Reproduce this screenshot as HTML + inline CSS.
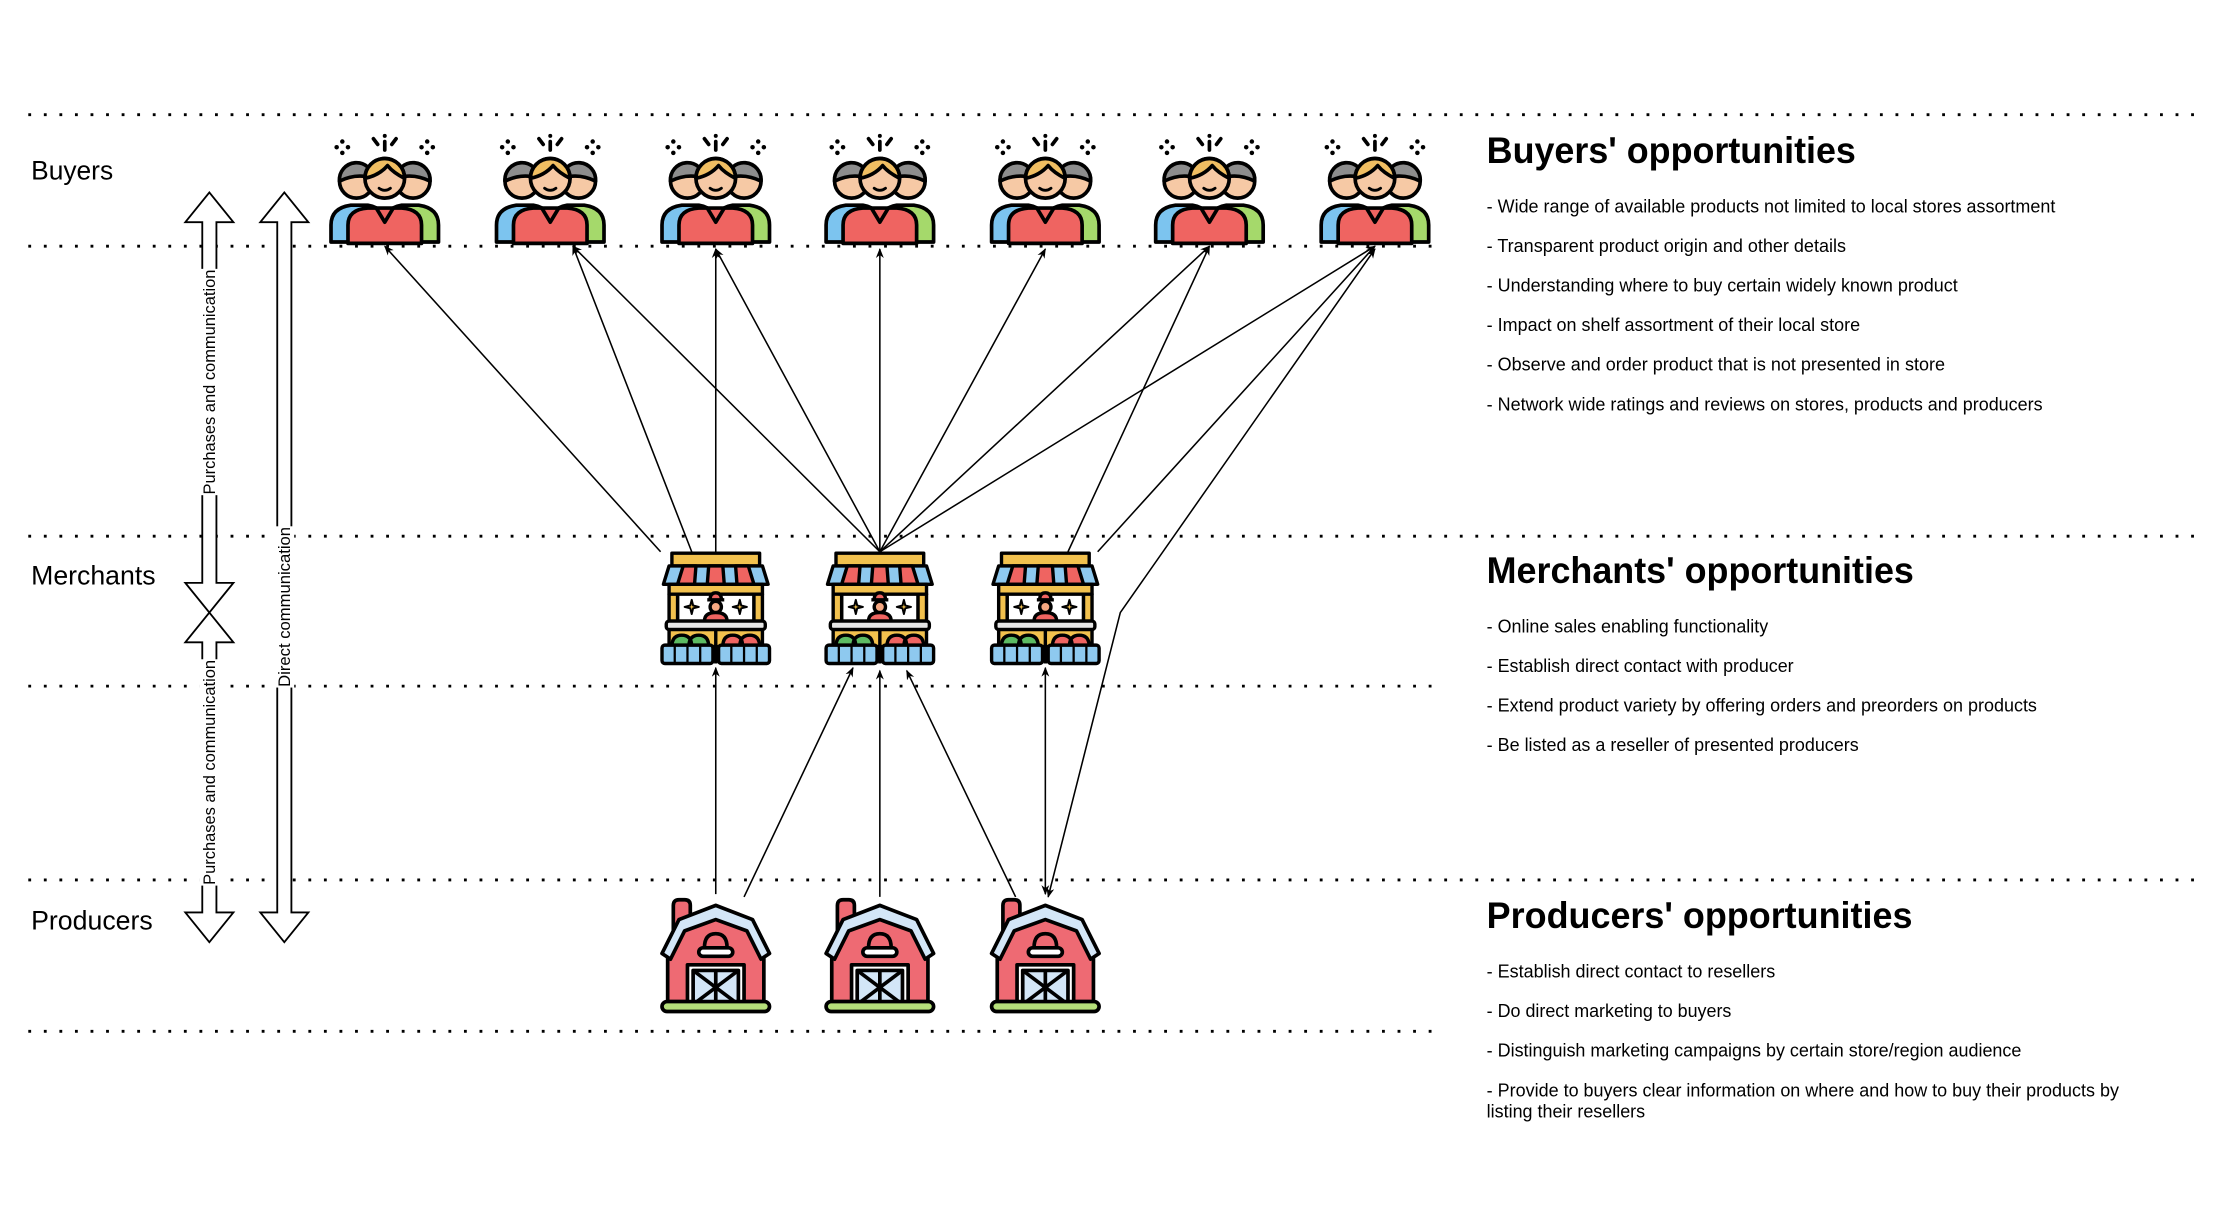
<!DOCTYPE html>
<html><head><meta charset="utf-8"><style>
html,body{margin:0;padding:0;background:#fff;width:2218px;height:1228px;overflow:hidden}
svg{display:block}
text{font-family:"Liberation Sans",Arial,sans-serif;fill:#000}
</style></head><body>
<svg id="d" width="2218" height="1228" viewBox="0 0 1568 868" xmlns="http://www.w3.org/2000/svg">
<defs>
<marker id="ah" viewBox="0 0 10 10" refX="9" refY="5" markerWidth="7" markerHeight="7" orient="auto-start-reverse" markerUnits="userSpaceOnUse">
<path d="M0,1 L10,5 L0,9 L3,5 Z" fill="#000"/></marker>
<g id="buyer" stroke="#000" stroke-width="2.6" stroke-linejoin="round" stroke-linecap="round">
<g fill="#000" stroke="none">
<circle cx="10" cy="5" r="1.6"/><circle cx="10" cy="13" r="1.6"/><circle cx="6" cy="9" r="1.6"/><circle cx="14" cy="9" r="1.6"/>
<circle cx="70" cy="5" r="1.6"/><circle cx="70" cy="13" r="1.6"/><circle cx="66" cy="9" r="1.6"/><circle cx="74" cy="9" r="1.6"/>
</g>
<line x1="40" y1="5" x2="40" y2="11"/><line x1="32" y1="3" x2="35" y2="7"/><line x1="48" y1="3" x2="45" y2="7"/><circle cx="40" cy="1" r="1.4" fill="#000" stroke="none"/>
<path d="M2,76 V64 Q2,52 16,50 L28,50 Q40,52 40,64 V76 Z" fill="#7cc4ef"/>
<path d="M40,76 V64 Q40,52 52,50 L64,50 Q78,52 78,64 V76 Z" fill="#a5d96b"/>
<circle cx="20" cy="33" r="12" fill="#f6c9a5"/>
<path d="M8,33 A12,12 0 0 1 32,31 Q20,27 8,33 Z" fill="#8d8d8d"/>
<circle cx="60" cy="33" r="12" fill="#f6c9a5"/>
<path d="M48,31 A12,12 0 0 1 72,33 Q60,27 48,31 Z" fill="#8d8d8d"/>
<path d="M14,77 V64 Q14,53 28,52 L52,52 Q66,53 66,64 V77 Z" fill="#ef6461"/>
<path d="M34,52 L40,62 L46,52" fill="none"/>
<circle cx="40" cy="31" r="14" fill="#f6c9a5"/>
<path d="M26,31 A14,14 0 0 1 54,31 Q46,27 42,22 Q36,29 26,31 Z" fill="#f0be62"/>
<path d="M36,38 Q40,41 44,38" fill="none" stroke-width="2"/>
</g>
<g id="stall" stroke="#000" stroke-width="2.4" stroke-linejoin="round">
<rect x="8" y="0" width="62" height="9" fill="#f2c14e"/>
<path d="M6,9 H72 L76,22 H2 Z" fill="#8ec9ef"/>
<path d="M16,9 H25 L24,22 H12 Z M34,9 H44 L45,22 H33 Z M53,9 H62 L66,22 H54 Z" fill="#ef6461"/>
<rect x="6" y="22" width="66" height="7" fill="#f2c14e"/>
<rect x="12" y="29" width="54" height="19" fill="#fff"/>
<rect x="6" y="29" width="6" height="19" fill="#f2c14e"/><rect x="66" y="29" width="6" height="19" fill="#f2c14e"/>
<circle cx="39" cy="38" r="4" fill="#f6a882"/><path d="M33,33 H45 M35,33 Q35,28 39,28 Q43,28 43,33" fill="#ef6461"/>
<path d="M31,48 Q31,42 39,42 Q47,42 47,48 Z" fill="#ef6461"/>
<path d="M22,33 L23,37 L27,38 L23,39 L22,43 L21,39 L17,38 L21,37 Z M56,33 L57,37 L61,38 L57,39 L56,43 L55,39 L51,38 L55,37 Z" fill="#f2c14e" stroke-width="1.4"/>
<rect x="4" y="48" width="70" height="6" rx="2" fill="#e6e6e6"/>
<rect x="6" y="54" width="66" height="12" fill="#f2c14e"/>
<line x1="39" y1="54" x2="39" y2="78"/>
<path d="M8,66 Q8,58 15,58 Q22,58 22,66 Z M20,66 Q20,58 27,58 Q34,58 34,66 Z" fill="#5dbb63"/>
<path d="M44,66 Q44,58 51,58 Q58,58 58,66 Z M56,66 Q56,58 63,58 Q70,58 70,66 Z" fill="#ef6461"/>
<rect x="1" y="65" width="36" height="13" rx="2" fill="#8ec9ef"/>
<rect x="41" y="65" width="36" height="13" rx="2" fill="#8ec9ef"/>
<path d="M10,65 V78 M19,65 V78 M28,65 V78 M50,65 V78 M59,65 V78 M68,65 V78" fill="none" stroke-width="1.6"/>
</g>
<g id="farm" stroke="#000" stroke-width="2.6" stroke-linejoin="round">
<path d="M10,24 V6 Q10,2 14,2 H18 Q22,2 22,6 V18 Z" fill="#ee6a73"/>
<path d="M6,34 L16,18 L40,10 L64,18 L74,34 V74 H6 Z" fill="#ee6a73"/>
<path d="M2,40 L14,16 L40,6 L66,16 L78,40 L72,44 L62,24 L40,16 L18,24 L8,44 Z" fill="#d3e6f7"/>
<path d="M32,36 Q32,26 40,26 Q48,26 48,36 Z" fill="#ee6a73"/><rect x="28" y="36" width="24" height="6" rx="3" fill="#fff"/>
<rect x="20" y="48" width="40" height="28" fill="#fff"/><rect x="24" y="52" width="32" height="24" fill="#d3e6f7"/>
<path d="M24,52 L56,76 M56,52 L24,76 M40,52 V76" fill="none"/>
<rect x="2" y="74" width="76" height="7" rx="3.5" fill="#b5e07a"/>
</g>
</defs>
<g id="rows"></g>
<g id="icons"></g>
<g id="links" fill="none" stroke="#000" stroke-width="1.1"></g>
<g id="side"></g>
</svg>
<script>
const NS='http://www.w3.org/2000/svg';
const buyerX=[272,389,506,622,739,855,972];
const merchantX=[506,622,739];
const producerX=[506,622,739];
const rowLines=[[81,1558],[174,1015],[379,1558],[485,1015],[622,1558],[729,1015]];
const buyerLinks=[[467,390,272,174],[489,390,405,174],[506,390,506,176],[622,390,405,174],[622,390,506,176],[622,390,622,176],[622,390,739,176],[622,390,855,174],[622,390,972,174],[755,390,855,174],[776,390,972,174]];
const producerLinks=[[506,632,506,472],[526,634,603,472],[622,634,622,474],[718,634,641,474]];
function el(t,a,p){const e=document.createElementNS(NS,t);for(const k in a)e.setAttribute(k,a[k]);p.appendChild(e);return e;}
const rows=document.getElementById('rows');
rowLines.forEach(r=>{const l=el('line',{x1:20,y1:r[0],x2:r[1],y2:r[0],stroke:'#000','stroke-width':2,'stroke-dasharray':'2 9'},rows);

});
const icons=document.getElementById('icons');
buyerX.forEach(x=>{const u=el('use',{href:'#buyer',x:x-40,y:95},icons);

});
merchantX.forEach(x=>{const u=el('use',{href:'#stall',x:x-39,y:391},icons);

});
producerX.forEach(x=>{const u=el('use',{href:'#farm',x:x-40,y:634},icons);

});
const links=document.getElementById('links');
buyerLinks.concat(producerLinks).forEach(c=>{const l=el('line',{x1:c[0],y1:c[1],x2:c[2],y2:c[3],'marker-end':'url(#ah)'},links);

});
let d=el('line',{x1:739,y1:632,x2:739,y2:472,'marker-end':'url(#ah)','marker-start':'url(#ah)'},links);


d=el('polyline',{points:'972,176 792,433 741,634','marker-end':'url(#ah)','marker-start':'url(#ah)'},links);


</script>
<script>
(function(){
const side=document.getElementById('side');
function big(cx,ytop,ybot,sw,hw,hh,name){
  const l=cx-sw/2,r=cx+sw/2;
  const p=`M${cx},${ytop} L${cx+hw},${ytop+hh} L${r},${ytop+hh} L${r},${ybot-hh} L${cx+hw},${ybot-hh} L${cx},${ybot} L${cx-hw},${ybot-hh} L${l},${ybot-hh} L${l},${ytop+hh} L${cx-hw},${ytop+hh} Z`;
  const e=document.createElementNS('http://www.w3.org/2000/svg','path');
  e.setAttribute('d',p);e.setAttribute('fill','#fff');e.setAttribute('stroke','#000');e.setAttribute('stroke-width','1.3');
  
  
  side.appendChild(e);
}
big(148,136,433,10,17,21,'buyer-merchant-arrow');
big(148,433,666,10,17,21,'merchant-producer-arrow');
big(201,136,666,10,17,21,'direct-communication-arrow');
})();
</script>
<svg style="position:absolute;left:0;top:0" width="2218" height="1228" viewBox="0 0 1568 868">
<g font-family="Liberation Sans, Arial, sans-serif">
<rect x="141" y="190" width="14" height="160" fill="#fff"/>
<text transform="translate(152,270) rotate(-90)" font-size="11.5" text-anchor="middle" textLength="159" lengthAdjust="spacingAndGlyphs">Purchases and communication</text>
<rect x="141" y="466" width="14" height="160" fill="#fff"/>
<text transform="translate(152,546) rotate(-90)" font-size="11.5" text-anchor="middle" textLength="159" lengthAdjust="spacingAndGlyphs">Purchases and communication</text>
<rect x="194" y="372" width="14" height="114" fill="#fff"/>
<text transform="translate(205,429) rotate(-90)" font-size="11.5" text-anchor="middle" textLength="113" lengthAdjust="spacingAndGlyphs">Direct communication</text>
<text x="22" y="127" font-size="19" textLength="58" lengthAdjust="spacingAndGlyphs">Buyers</text>
<text x="22" y="413" font-size="19" textLength="88" lengthAdjust="spacingAndGlyphs">Merchants</text>
<text x="22" y="657" font-size="19" textLength="86" lengthAdjust="spacingAndGlyphs">Producers</text>
<text x="1051" y="115" font-size="26" font-weight="bold" textLength="261" lengthAdjust="spacingAndGlyphs">Buyers' opportunities</text>
<g font-size="13">
<text x="1051" y="150" textLength="402" lengthAdjust="spacingAndGlyphs">- Wide range of available products not limited to local stores assortment</text>
<text x="1051" y="178" textLength="254" lengthAdjust="spacingAndGlyphs">- Transparent product origin and other details</text>
<text x="1051" y="206" textLength="333" lengthAdjust="spacingAndGlyphs">- Understanding where to buy certain widely known product</text>
<text x="1051" y="234" textLength="264" lengthAdjust="spacingAndGlyphs">- Impact on shelf assortment of their local store</text>
<text x="1051" y="262" textLength="324" lengthAdjust="spacingAndGlyphs">- Observe and order product that is not presented in store</text>
<text x="1051" y="290" textLength="393" lengthAdjust="spacingAndGlyphs">- Network wide ratings and reviews on stores, products and producers</text>
</g>
<text x="1051" y="412" font-size="26" font-weight="bold" textLength="302" lengthAdjust="spacingAndGlyphs">Merchants' opportunities</text>
<g font-size="13">
<text x="1051" y="447" textLength="199" lengthAdjust="spacingAndGlyphs">- Online sales enabling functionality</text>
<text x="1051" y="475" textLength="217" lengthAdjust="spacingAndGlyphs">- Establish direct contact with producer</text>
<text x="1051" y="503" textLength="389" lengthAdjust="spacingAndGlyphs">- Extend product variety by offering orders and preorders on products</text>
<text x="1051" y="531" textLength="263" lengthAdjust="spacingAndGlyphs">- Be listed as a reseller of presented producers</text>
</g>
<text x="1051" y="656" font-size="26" font-weight="bold" textLength="301" lengthAdjust="spacingAndGlyphs">Producers' opportunities</text>
<g font-size="13">
<text x="1051" y="691" textLength="204" lengthAdjust="spacingAndGlyphs">- Establish direct contact to resellers</text>
<text x="1051" y="719" textLength="173" lengthAdjust="spacingAndGlyphs">- Do direct marketing to buyers</text>
<text x="1051" y="747" textLength="378" lengthAdjust="spacingAndGlyphs">- Distinguish marketing campaigns by certain store/region audience</text>
<text x="1051" y="775" textLength="447" lengthAdjust="spacingAndGlyphs">- Provide to buyers clear information on where and how to buy their products by</text>
<text x="1051" y="790" textLength="112" lengthAdjust="spacingAndGlyphs">listing their resellers</text>
</g>
</g>
</svg>
</body></html>
